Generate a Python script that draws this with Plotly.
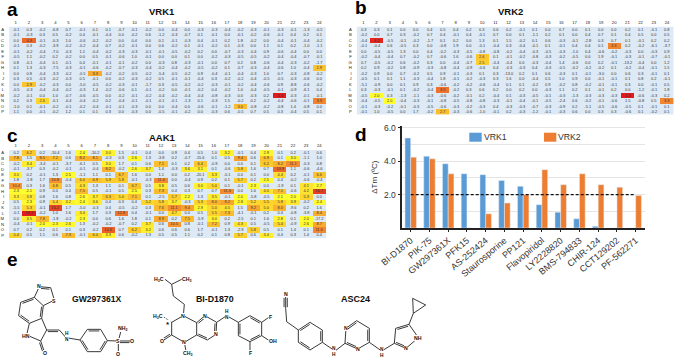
import plotly.graph_objects as go

W, H = 675, 358
FONT = "Liberation Sans"

rows = list("ABCDEFGHIJKLMNOP")
cols = list(range(1, 25))

vrk1_plate = [
[-0.1,0.3,-0.2,-6.8,0.7,-0.1,0.1,0.1,-0.7,-0.1,-0.2,0.0,-0.4,0.0,-0.3,-0.3,-0.4,-0.2,-0.3,-0.1,-0.3,-0.1,-1.3,-0.5],
[-0.1,-0.3,0.3,0.5,-0.2,0.4,-0.1,-0.4,0.0,-0.2,0.6,-1.2,-0.3,-0.7,0.1,-0.1,0.0,-0.1,-0.2,-0.6,-0.1,0.4,0.2,0.1],
[0.0,4.3,-0.1,-0.3,1.0,-0.6,-0.2,-0.2,0.0,0.4,0.0,0.1,-0.1,-0.3,0.4,-0.1,0.2,1.8,-0.2,0.0,-0.4,-0.1,-0.4,-0.2],
[-0.1,0.3,-0.2,-3.9,-0.2,-0.2,-0.4,0.7,-0.2,-0.1,0.0,0.6,-0.2,0.1,-0.1,-0.2,0.1,-0.3,0.0,1.1,0.1,0.2,-1.0,-1.1],
[-0.1,-0.2,-0.4,-7.0,-0.3,1.1,-0.4,-0.2,-0.3,-0.3,-0.1,-0.1,-0.5,-0.2,0.2,0.0,-0.7,-0.3,-0.4,0.9,-0.6,-0.4,0.0,0.0],
[-0.5,1.1,-0.2,0.2,-0.2,0.0,0.5,-0.1,-0.6,1.0,-0.1,0.0,0.0,0.1,0.0,-0.2,-0.3,-0.5,-0.5,-0.2,-0.4,-0.4,-0.7,-0.1],
[0.8,-0.1,-0.4,0.1,-0.1,0.4,-0.1,-0.1,-0.1,-0.2,0.0,-0.3,0.8,-0.3,-0.1,0.0,0.7,0.2,0.8,-0.6,-0.4,-0.3,-0.2,-1.7],
[0.1,1.3,-0.3,-7.5,-0.3,-0.1,-0.6,-0.2,-0.7,-0.3,-0.4,-0.2,-0.4,-0.2,-0.5,-0.2,0.1,-0.7,-0.3,-0.4,-0.6,1.0,-0.4,2.9],
[0.0,0.8,-0.4,-3.3,-0.2,-0.5,3.3,-0.2,-0.2,-0.5,-0.2,-5.4,-0.5,-0.2,0.9,-0.4,-0.1,-0.4,-0.3,1.0,0.7,-0.3,-0.8,-0.2],
[0.3,0.5,-0.3,-0.2,-0.3,0.5,-0.1,0.0,-0.2,-0.3,-0.2,0.5,-0.1,-0.1,-0.4,0.3,-0.2,-0.2,-0.4,-0.5,-0.5,-0.3,-0.6,0.0],
[0.0,2.9,-0.2,-0.3,0.0,-5.0,-0.5,-0.2,-0.3,-0.1,-1.7,0.3,-0.5,-0.2,-0.2,-0.3,-0.1,-0.2,-0.4,-0.6,0.9,-8.8,-0.6,-0.2],
[-0.5,-0.3,-0.4,-0.4,-0.2,-0.3,1.4,-0.2,-0.6,0.1,-0.1,-0.2,0.0,-0.1,-0.2,0.4,-0.2,1.0,-0.4,-0.5,-0.1,-0.9,-6.1,0.4],
[-0.2,-0.1,0.0,1.0,-0.7,-0.6,-0.5,0.0,-0.2,-0.1,-0.2,-0.4,-0.2,-0.4,-0.4,-0.8,-0.3,0.0,-0.3,0.2,5.3,-0.3,-0.1,-0.1],
[0.2,0.3,2.6,-0.1,-0.4,-0.4,-0.2,0.2,-0.4,-0.1,-0.1,-0.1,-0.1,-1.3,0.1,-0.3,1.5,-0.2,0.2,-0.2,-0.4,-0.6,-0.1,3.9],
[-1.0,0.1,-0.1,-0.2,-0.1,-0.2,-0.4,-0.1,-0.1,-0.3,0.0,0.0,-0.4,0.0,-0.6,-0.1,-1.2,3.0,-0.8,-0.2,-0.8,1.4,-0.8,0.0],
[1.1,0.0,-0.1,-0.2,1.2,0.1,0.1,0.3,0.0,-0.3,0.0,-0.5,-0.1,-0.2,0.0,-0.3,0.6,-0.5,0.7,0.5,0.3,-0.4,0.5,0.1],
]

vrk2_plate = [
[0.3,0.3,0.1,0.0,0.0,0.4,0.5,0.4,0.2,0.3,0.6,0.2,-0.1,0.1,0.0,0.7,0.0,0.1,0.0,0.0,0.2,0.1,-0.1,0.8],
[-0.2,0.0,0.7,0.3,-0.2,0.7,0.4,-0.1,0.4,-0.1,0.7,0.0,0.1,-1.1,0.2,0.1,0.0,0.4,0.7,0.1,0.4,0.5,0.0,0.5],
[-0.4,4.2,-0.5,-0.1,-0.2,-1.7,0.1,0.2,0.0,1.3,0.1,1.5,-0.2,0.1,0.6,-0.3,-0.1,-2.8,0.3,0.7,0.1,-0.1,0.2,0.2],
[-0.1,-0.4,0.6,-0.5,0.3,0.0,-0.8,1.9,0.0,-0.1,-0.4,0.3,-0.4,-0.1,0.1,-0.1,0.4,0.4,0.1,3.3,0.2,-0.2,-6.1,-3.7],
[0.0,-0.5,-0.5,1.3,0.0,0.4,-0.2,-0.3,-0.5,-0.8,-0.8,-0.2,-0.4,-0.3,-0.5,-0.3,-1.0,0.4,-0.6,-0.2,-0.3,0.0,-0.3,0.9],
[-0.2,-0.4,-0.4,0.7,-0.2,0.7,-0.6,1.6,-0.6,2.6,0.1,-0.1,-0.2,-0.8,-0.3,-0.2,-0.5,0.0,1.9,-0.1,-0.3,-0.1,-0.7,-0.1],
[0.7,-0.5,-0.2,0.6,-0.2,0.3,0.0,-0.4,-0.7,2.5,-0.4,-0.4,0.0,-0.3,-0.4,1.4,-0.6,0.0,0.2,-0.1,-13.2,-0.4,0.0,1.2],
[0.2,0.9,-0.2,0.8,-0.9,-0.3,-0.8,-0.4,-0.9,-0.6,0.4,-0.3,-0.3,0.4,-0.3,-0.5,-0.2,-0.2,-0.2,0.1,-0.2,-0.4,-0.1,1.5],
[-0.2,0.9,0.0,0.7,-0.2,0.5,0.9,-0.1,-0.3,0.1,0.3,-13.0,0.2,0.1,0.6,-0.3,0.1,-0.1,-3.0,0.0,0.6,0.3,-0.1,0.1],
[-0.5,0.1,0.1,1.1,-0.3,-0.4,1.8,-0.1,-0.2,-0.3,0.3,1.6,0.0,-0.4,0.5,1.0,0.9,0.0,-0.1,-0.1,0.1,0.8,0.2,-0.1],
[-5.1,-0.9,0.0,0.1,0.9,0.3,-0.6,-0.2,-0.2,-0.6,-0.4,0.1,0.1,-0.2,0.9,-0.2,0.8,-0.2,-0.1,-0.1,0.3,0.0,-0.1,0.5],
[0.3,-0.3,-0.1,0.1,-0.2,-0.4,3.5,-0.2,0.3,0.6,0.2,0.0,0.2,0.0,-0.3,1.1,0.2,0.1,-0.1,0.2,0.0,-1.2,-0.1,1.8],
[-0.5,2.0,0.3,-1.3,-1.1,-0.3,-0.6,-0.2,-0.1,0.2,-0.4,0.1,-0.3,-0.5,-0.1,-0.3,-1.3,-0.3,-0.3,-0.3,4.3,-0.6,-0.3,0.2],
[-0.4,-0.5,2.0,-0.4,-0.3,-0.1,-0.8,-0.5,-0.8,-0.8,-0.3,-0.1,-0.4,-0.1,-0.5,-2.4,0.6,-0.2,-0.1,-0.6,1.5,-0.8,0.5,3.3],
[-0.1,-0.3,-0.2,-0.1,-0.3,-0.5,-0.6,-0.3,-0.2,-0.3,0.4,-0.3,-0.3,-0.7,-0.3,-0.9,0.2,-5.1,-0.5,-0.6,-0.5,0.1,-0.1,0.1],
[-0.1,1.0,-0.5,0.0,1.7,-0.2,2.7,-0.3,-0.6,-1.0,-0.1,0.2,-0.3,-1.2,-0.1,-0.3,0.6,0.0,0.3,0.3,-0.6,0.1,-0.2,0.1],
]

aak1_plate = [
[0.2,6.2,0.2,-10.4,1.6,2.4,-10.2,3.0,1.5,-0.1,0.4,0.0,0.9,0.4,0.5,1.0,3.2,-0.1,0.4,2.9,0.1,0.2,-0.1,0.6],
[7.8,1.5,8.5,7.2,0.6,8.2,8.1,-0.3,0.3,2.6,1.3,-3.8,0.2,-0.7,-15.6,0.1,0.5,9.4,0.6,6.9,0.1,3.0,-1.1,1.0],
[-0.2,3.4,-3.4,-0.1,-3.7,-6.1,0.5,3.0,1.7,0.1,0.6,7.1,0.1,0.2,6.4,-0.9,0.0,0.0,0.1,6.2,8.2,11.1,-0.3,0.8],
[-0.1,-3.7,0.3,-0.2,-0.1,-0.1,-0.4,8.2,-0.2,2.6,3.7,1.4,-0.3,3.6,3.1,0.1,-0.6,5.8,1.6,0.7,13.9,1.1,-0.6,-4.6],
[3.0,0.2,-0.1,1.3,2.5,-1.1,1.1,0.1,6.7,1.6,0.0,1.1,0.0,0.2,-20.1,3.3,-0.1,0.0,0.1,0.0,4.4,0.2,-0.1,6.6],
[1.8,-1.8,1.7,10.8,-0.4,6.0,6.9,5.9,5.8,-0.1,-0.3,11.4,0.0,-0.4,0.9,0.2,0.1,5.7,0.2,2.5,0.4,-0.2,-0.6,-0.4],
[10.4,0.3,1.6,6.8,0.5,4.3,1.3,1.1,0.1,6.7,0.5,3.8,0.5,0.6,3.0,5.0,0.1,-0.1,2.3,0.0,-1.9,0.1,4.1,2.7],
[2.3,2.1,0.9,0.0,0.4,7.5,0.5,-0.1,0.5,2.5,0.3,7.3,0.4,0.3,0.7,0.7,11.3,0.0,1.6,4.0,7.1,-0.6,4.2,16.7],
[3.3,3.8,0.8,1.6,0.8,2.6,3.7,6.3,5.0,7.1,0.1,-2.5,5.7,2.2,1.3,3.5,-0.1,2.0,-5.8,-0.5,2.1,2.0,5.3,0.0],
[0.5,2.3,0.9,5.4,3.2,2.4,3.6,0.4,0.3,0.4,5.2,5.8,3.7,-0.3,5.3,8.0,9.2,2.8,5.2,5.5,5.8,3.9,-0.2,2.4],
[-5.5,5.3,-0.1,16.2,1.7,-5.0,-0.3,0.4,-0.5,-0.2,0.3,7.6,11.1,9.4,2.9,5.0,4.5,1.5,9.2,5.0,8.0,-9.6,0.2,1.6],
[-0.1,19.1,-0.2,1.0,1.6,3.4,1.7,0.3,12.9,0.4,-0.1,0.0,4.7,0.0,0.5,5.5,7.3,-4.1,-0.1,0.2,0.4,-0.8,-3.8,8.4],
[0.0,3.5,7.8,-1.8,-0.2,2.3,0.0,0.6,1.6,1.8,0.1,8.9,0.2,7.5,-5.9,3.0,0.2,-2.5,0.1,1.6,2.8,0.1,2.0,-17.2],
[-0.4,-0.1,2.0,2.3,2.6,1.3,-0.2,-0.2,-0.7,0.2,3.7,0.6,10.5,0.8,-0.1,7.2,0.9,4.3,0.5,-0.5,5.4,-0.9,2.6,8.7],
[0.7,0.2,0.2,0.1,0.1,0.3,-0.2,14.6,0.7,6.2,3.2,0.6,0.6,0.6,1.7,-0.1,1.3,-2.9,5.8,0.5,0.1,1.4,0.1,11.6],
[5.4,0.5,1.1,0.6,7.3,-0.1,6.0,3.3,0.6,-0.2,1.3,0.5,0.5,1.1,0.2,0.1,0.8,5.7,0.6,3.4,0.4,0.3,1.4,0.4],
]

compounds = ["BI-D1870","PIK-75","GW297361X","PFK15","AS-252424","Staurosporine","PP121",
             "Flavopiridol","LY2228820","BMS-794833","CHIR-124","CCT129202","PF-562271"]
vrk1_dtm = [5.4,4.3,3.85,3.25,3.2,2.85,2.5,1.4,0.95,0.55,0.1,0,0]
vrk2_dtm = [4.25,4.15,3.25,0,0.85,1.5,2.0,3.5,2.6,3.25,2.6,2.45,1.95]
threshold = [2.0, 2.0]


def px(x):
    return x / W

def py(y):
    return 1 - y / H

def colorscale(plate):
    flat = [v for r in plate for v in r]
    lo, hi = min(flat), max(flat)
    t = lambda v: (v - lo) / (hi - lo)
    base = "#DDE9F5"
    stops = [(0, "#FFFF30"), (.25, "#FCC82E"), (.55, "#F38A30"), (.75, "#EA5A28"), (1, "#E31A1C")]
    out = [[0, base], [t(1.99), base]]
    for f, c in stops:
        out.append([t(2 + f * (hi - 2)), c])
    return out, lo, hi

fig = go.Figure()
layout = dict(
    width=W, height=H, autosize=False, margin=dict(l=0, r=0, t=0, b=0, autoexpand=False),
    paper_bgcolor="white", plot_bgcolor="white", showlegend=False,
    font=dict(family=FONT, color="#222"), bargap=0.39, barmode="group",
)

plates = [
    (vrk1_plate, "x", "y", "xaxis", "yaxis", 9.1, 325.9, 26.55, 114.75),
    (vrk2_plate, "x2", "y2", "xaxis2", "yaxis2", 356.7, 673.6, 26.55, 114.75),
    (aak1_plate, "x3", "y3", "xaxis3", "yaxis3", 9.1, 325.9, 150.0, 238.0),
]
for plate, xa, ya, xk, yk, x0, x1, y0, y1 in plates:
    cs, lo, hi = colorscale(plate)
    fig.add_trace(go.Heatmap(
        z=plate, x=cols, y=rows, xaxis=xa, yaxis=ya, colorscale=cs, zmin=lo, zmax=hi,
        showscale=False, text=[[f"{v:.1f}" for v in r] for r in plate], texttemplate="%{text}",
        textfont=dict(size=3.9, color="#333", family=FONT), hoverinfo="skip",
    ))
    layout[xk] = dict(domain=[px(x0), px(x1)], anchor=ya, side="top", tickmode="array", automargin=False,
                      tickvals=cols, ticktext=[str(c) for c in cols], ticklen=0, showgrid=False,
                      zeroline=False, showline=False, tickangle=0,
                      tickfont=dict(size=4.2, color="#222", family=FONT), ticklabelstandoff=1)
    layout[yk] = dict(domain=[py(y1), py(y0)], anchor=xa, autorange="reversed", tickmode="array", automargin=False,
                      tickvals=rows, ticktext=rows, ticklen=0, showgrid=False, zeroline=False,
                      showline=False, tickfont=dict(size=4.2, color="#222", family=FONT),
                      ticklabelstandoff=4)

BLUE, ORANGE = "#5B9BD5", "#ED7D31"
fig.add_trace(go.Bar(x=compounds, y=vrk1_dtm, name="VRK1", marker_color=BLUE, xaxis="x4", yaxis="y4"))
fig.add_trace(go.Bar(x=compounds, y=vrk2_dtm, name="VRK2", marker_color=ORANGE, xaxis="x4", yaxis="y4"))
fig.add_trace(go.Scatter(x=[compounds[0], compounds[-1]], y=threshold, mode="lines", xaxis="x4", yaxis="y4",
                         line=dict(color="#111", width=1.2, dash="3px,2px"), hoverinfo="skip"))
layout["xaxis4"] = dict(domain=[px(402.3), px(645)], anchor="y4", type="category", range=[-0.448, 12.496], automargin=False,
                        showline=True, linecolor="#222", linewidth=1.5, ticks="outside", ticklen=2, tickwidth=1,
                        tickcolor="#222", tickangle=-40, tickfont=dict(size=9, color="#333", family=FONT),
                        showgrid=False, zeroline=False)
layout["yaxis4"] = dict(domain=[py(228), py(126.3)], anchor="x4", range=[0, 6.1], tickvals=[2, 4, 6], automargin=False,
                        ticktext=["2.0", "4.0", "6.0"], showline=True, linecolor="#222", linewidth=1.5,
                        ticks="outside", ticklen=3, tickwidth=1.2, tickcolor="#222", showgrid=True,
                        gridcolor="#E4E4E4", gridwidth=1, zeroline=False,
                        minor=dict(dtick=1, showgrid=True, gridcolor="#E4E4E4", ticklen=0),
                        tickfont=dict(size=8.5, color="#333", family=FONT),
                        title=dict(text="ΔTm (ºC)", font=dict(size=8, color="#333", family=FONT), standoff=5))

ann = []
def text(x, y, s, size, bold=False, color="#111", anchor="center", bg=None):
    ann.append(dict(x=px(x), y=py(y), xref="paper", yref="paper", text=f"<b>{s}</b>" if bold else s,
                    showarrow=False, xanchor=anchor, yanchor="middle", borderpad=0, borderwidth=0,
                    bgcolor=bg, font=dict(size=size, color=color, family=FONT)))

for lab, x, y in [("a", 12, 9), ("b", 361, 8), ("c", 12, 135), ("d", 361, 134), ("e", 12, 259)]:
    text(x, y, lab, 19, True, "#000")
for lab, x, y in [("VRK1", 162, 11), ("VRK2", 510, 11), ("AAK1", 162, 137)]:
    text(x, y, lab, 9.5, True, "#111")
text(483.5, 137.3, "VRK1", 8.7, False, "#333", "left")
text(558, 137.3, "VRK2", 8.7, False, "#333", "left")

shapes = [
    dict(type="rect", xref="paper", yref="paper", x0=px(469.3), x1=px(481.7), y0=py(141.7), y1=py(132.7),
         fillcolor=BLUE, line_width=0),
    dict(type="rect", xref="paper", yref="paper", x0=px(544), x1=px(556.3), y0=py(141.7), y1=py(132.7),
         fillcolor=ORANGE, line_width=0),
]

# chemical structures: outline points measured on a 3x crop of panel e
ORIGIN_Y = 245
def Z(p):
    return (p[0] / 3, ORIGIN_Y + p[1] / 3)

def atom(p, s, size=5.2):
    x, y = Z(p)
    text(x, y, s, size, True, "#111", "center", "white")

def draw(chains, doubles=(), dashed=()):
    d = []
    for chain in chains:
        pts = [Z(p) for p in chain]
        d.append("M" + " L".join(f"{px(x):.5f},{py(y):.5f}" for x, y in pts))
    for (a, b, side) in doubles:
        ax, ay = Z(a); bx, by = Z(b)
        dx, dy = bx - ax, by - ay
        n = (dx * dx + dy * dy) ** .5
        ox, oy = -dy / n * 1.6 * side, dx / n * 1.6 * side
        sx, sy = ax + ox + dx * .1, ay + oy + dy * .1
        ex, ey = bx + ox - dx * .1, by + oy - dy * .1
        d.append(f"M{px(sx):.5f},{py(sy):.5f} L{px(ex):.5f},{py(ey):.5f}")
    shapes.append(dict(type="path", xref="paper", yref="paper", path=" ".join(d),
                       line=dict(color="#222", width=0.9), layer="above"))
    for a, b in dashed:
        ax, ay = Z(a); bx, by = Z(b)
        shapes.append(dict(type="line", xref="paper", yref="paper", x0=px(ax), y0=py(ay), x1=px(bx), y1=py(by),
                           line=dict(color="#222", width=0.9, dash="1px,1px")))

# GW297361X
draw([
    [(103,157),(62,172),(56,212),(88,235),(125,220),(130,182),(103,157)],
    [(103,157),(118,125),(152,128),(163,165),(130,182)],
    [(88,235),(80,270),(122,288),(140,255),(125,220)],
    [(122,288),(133,320)],
    [(140,255),(178,255),(198,278),(240,285),(262,253),(302,253),(322,287),(302,320),(262,320),(240,285)],
    [(322,287),(355,288),(365,250)],
    [(355,288),(355,325)],
    [(355,288),(392,288)],
], doubles=[((103,157),(62,172),-1),((56,212),(88,235),-1),((125,220),(130,182),-1),
            ((118,125),(152,128),1),((140,255),(178,255),1),((262,253),(302,253),1),
            ((322,287),(302,320),1),((262,320),(240,285),1),((122,288),(133,320),1),((355,288),(392,288),1)])
atom((118,122),"N"); atom((163,167),"S"); atom((78,272),"HN"); atom((135,323),"O")
atom((200,273),"H<br>N",4.8); atom((355,288),"S"); atom((370,250),"NH<sub>2</sub>"); atom((396,288),"O"); atom((355,327),"O")
text(290/3, ORIGIN_Y + 163/3, "GW297361X", 8.6, True)

# BI-D1870
draw([
    [(495,103),(515,118),(545,103)],
    [(515,118),(520,153),(553,178),(550,212)],
    [(550,212),(515,232),(515,270),(553,292),(590,270),(590,233),(550,212)],
    [(515,270),(490,286)],
    [(553,292),(558,318)],
    [(590,233),(615,212),(650,232),(648,268),(622,285),(590,270)],
    [(650,232),(680,212),(715,232),(750,212),(785,232),(785,272),(750,290),(715,272),(715,232)],
    [(785,232),(805,218)], [(785,272),(805,285)], [(750,290),(750,320)],
], doubles=[((590,233),(615,212),1),((650,232),(648,268),1),((622,285),(590,270),1),
            ((515,270),(490,286),1),((750,212),(785,232),1),((785,272),(750,290),1),((715,272),(715,232),1)],
   dashed=[((515,232),(490,215))])
atom((478,102),"H<sub>3</sub>C"); atom((562,102),"CH<sub>3</sub>"); atom((475,215),"H<sub>3</sub>C"); atom((504,238),"*",8)
atom((550,212),"N"); atom((485,288),"O"); atom((553,292),"N"); atom((565,326),"CH<sub>3</sub>")
atom((615,212),"N"); atom((648,268),"N"); atom((680,207),"H<br>N",4.8)
atom((810,215),"F"); atom((818,288),"OH"); atom((750,325),"F")
text(645/3, ORIGIN_Y + 162/3, "BI-D1870", 8.8, True)

# ASC24
o = 1005
draw([
    [(857,155),(857,190),(860,230),(895,255),(930,232),(967,255),(967,292),(930,315),(895,292),(895,255)],
    [(967,292),(1005,318),(o+30,295),(o+33,250),(o+65,227),(o+103,250),(o+103,292),(o+68,312),(o+30,295)],
    [(o+103,292),(o+140,318),(o+178,295),(o+182,250),(o+222,238),(o+250,278),(o+213,310),(o+178,295)],
    [(o+222,238),(o+235,205),(o+233,160),(o+272,180),(o+235,205)],
], doubles=[((857,155),(857,190),1),((857,155),(857,190),-1),((895,255),(930,232),1),((967,255),(967,292),1),
            ((930,315),(895,292),1),((o+33,250),(o+65,227),1),((o+103,250),(o+103,292),1),
            ((o+68,312),(o+30,295),1),((o+182,250),(o+222,238),1),((o+213,310),(o+178,295),1)])
atom((857,148),"N"); atom((1003,320),"N<br>H",4.8); atom((o+33,250),"N"); atom((o+68,312),"N")
atom((o+140,322),"N<br>H",4.8); atom((o+250,278),"NH"); atom((o+213,310),"N")
text(335 + 60/3, ORIGIN_Y + 162/3, "ASC24", 9, True)

layout["annotations"] = ann
layout["shapes"] = shapes
fig.update_layout(**layout)
fig.write_html("out.html", config=dict(displayModeBar=False),
               post_script="document.body.style.margin='0';document.body.style.overflow='hidden';")
